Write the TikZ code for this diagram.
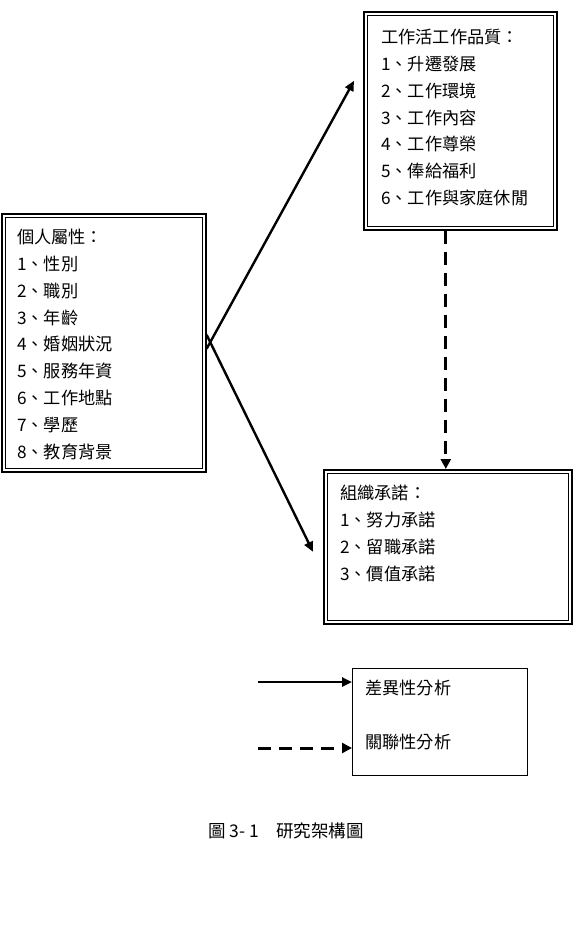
\documentclass[tikz,border=0pt]{standalone}
\usepackage{fontspec}
\newfontfamily\cjk{Noto Sans CJK TC}
\usetikzlibrary{arrows.meta, positioning, calc}

\begin{document}
\begin{tikzpicture}[x=1pt, y=-1pt,
  dblbox/.style={draw, line width=1.6pt, fill=white, inner sep=0,
    path picture={\draw[line width=0.7pt]
      ([shift={(3.5pt,-3.5pt)}]path picture bounding box.north west) rectangle
      ([shift={(-3.5pt,3.5pt)}]path picture bounding box.south east);}},
  listtext/.style={anchor=north west, inner sep=0, align=left,
    font=\cjk\fontsize{17.2}{26.8}\selectfont},
  solidarrow/.style={line width=2.4pt, -{Triangle[length=10pt, width=9pt]}},
  dasharrow/.style={line width=3pt, dash pattern=on 13pt off 8pt,
    -{Triangle[length=10pt, width=10pt]}}]
  \useasboundingbox (0,0) rectangle (577,927);

  % boxes
  \node[dblbox, anchor=north west, minimum width=193pt, minimum height=218pt] (quality) at (363,11) {};
  \node[dblbox, anchor=north west, minimum width=204pt, minimum height=258pt] (personal) at (1,213) {};
  \node[dblbox, anchor=north west, minimum width=248pt, minimum height=154pt] (commit) at (323,469) {};
  \node[draw, line width=0.8pt, anchor=north west, minimum width=175pt, minimum height=107pt] (legend) at (352,668) {};

  \node[listtext] (qualitylist) at ([shift={(18,18)}]quality.north west)
    {工作活工作品質：\\1、升遷發展\\2、工作環境\\3、工作內容\\4、工作尊榮\\5、俸給福利\\6、工作與家庭休閒};
  \node[listtext] (personallist) at ([shift={(16,16)}]personal.north west)
    {個人屬性：\\1、性別\\2、職別\\3、年齡\\4、婚姻狀況\\5、服務年資\\6、工作地點\\7、學歷\\8、教育背景};
  \node[listtext] (commitlist) at ([shift={(17,16)}]commit.north west)
    {組織承諾：\\1、努力承諾\\2、留職承諾\\3、價值承諾};
  \node[listtext, font=\cjk\fontsize{17.2}{54}\selectfont] (legendlist) at ([shift={(13,12)}]legend.north west)
    {差異性分析\\關聯性分析};

  % connectors
  \draw[solidarrow] ([yshift=-6]personal.east) -- ([shift={(-9,-40)}]quality.west);
  \draw[solidarrow] ([yshift=8]personal.east) -- ([shift={(-10,5)}]commit.west);
  \draw[dasharrow] ([xshift=-14.5]quality.south) -- ([xshift=-14.5]quality.south |- commit.north);

  % legend
  \coordinate (solidstart) at (258,682);
  \coordinate (dashstart) at (258,748);
  \draw[solidarrow] (solidstart) -- (solidstart -| legend.west);
  \draw[dasharrow] (dashstart) -- (dashstart -| legend.west);

  \node[font=\cjk\fontsize{17.5}{20}\selectfont] (caption) at (286,831) {圖 3- 1　研究架構圖};
\end{tikzpicture}
\end{document}
